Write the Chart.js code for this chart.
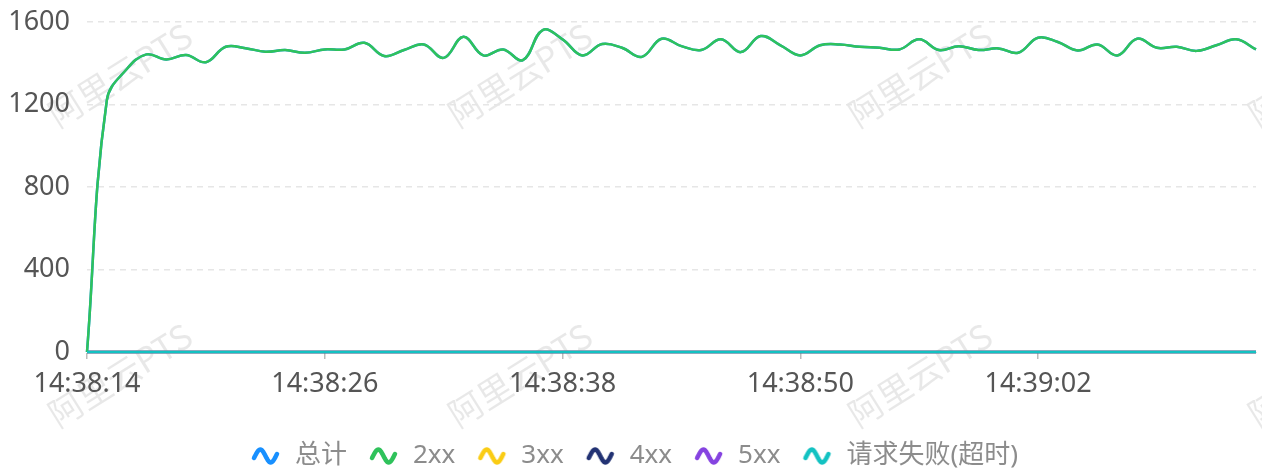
<!DOCTYPE html>
<html>
<head>
<meta charset="utf-8">
<script src="https://cdn.jsdelivr.net/npm/chart.js@4.4.1/dist/chart.umd.min.js"></script>
<style>
  html, body { margin: 0; padding: 0; background: #fff; }
  #qpsChart { display: block; background: #fff; }
</style>
</head>
<body>
<canvas id="qpsChart" width="1262" height="472"></canvas>
<script>
// one point per second, starting at 14:38:14
const startTime = [14, 38, 14];
const pointCount = 60;

const totalValues = [
    0, 1220, 1371, 1443, 1418, 1440, 1405, 1480, 1473, 1456,
    1464, 1451, 1467, 1467, 1499, 1435, 1464, 1491, 1426, 1528,
    1438, 1467, 1415, 1561, 1516, 1438, 1493, 1475, 1431, 1519,
    1483, 1464, 1516, 1454, 1532, 1487, 1438, 1487, 1491, 1480,
    1475, 1467, 1516, 1464, 1483, 1464, 1472, 1451, 1524, 1503,
    1462, 1491, 1438, 1519, 1475, 1480, 1460, 1487, 1516, 1467
];
// every request returned 2xx, so this series sits on top of the total
const status2xxValues = totalValues.slice();
const zeroValues = [
    0, 0, 0, 0, 0, 0, 0, 0, 0, 0, 0, 0, 0, 0, 0, 0, 0, 0, 0, 0,
    0, 0, 0, 0, 0, 0, 0, 0, 0, 0, 0, 0, 0, 0, 0, 0, 0, 0, 0, 0,
    0, 0, 0, 0, 0, 0, 0, 0, 0, 0, 0, 0, 0, 0, 0, 0, 0, 0, 0, 0
];
const status3xxValues = zeroValues;
const status4xxValues = zeroValues;
const status5xxValues = zeroValues;
const timeoutValues = zeroValues;

const yTicks = [0, 400, 800, 1200, 1600];
const labelEvery = 12;

function buildTimeLabels() {
    const labels = [];
    let secs = startTime[0] * 3600 + startTime[1] * 60 + startTime[2];
    for (let i = 0; i < pointCount; i++, secs++) {
        const h = Math.floor(secs / 3600), m = Math.floor(secs / 60) % 60, s = secs % 60;
        labels.push([h, m, s].map(v => String(v).padStart(2, '0')).join(':'));
    }
    return labels;
}
const timeLabels = buildTimeLabels();

const FONT = '"Noto Sans", "Noto Sans CJK SC", sans-serif';

// little "~" wave used as legend marker, with blank room on the left for spacing
function waveIcon(color) {
    const c = document.createElement('canvas');
    c.width = 44; c.height = 22;
    const g = c.getContext('2d');
    g.strokeStyle = color;
    g.lineWidth = 4.5;
    g.lineCap = 'round';
    g.beginPath();
    for (let i = 0; i <= 40; i++) {
        const u = i / 40;
        const x = 16 + u * 23;
        const y = 11 - 6.5 * Math.sin(2 * Math.PI * (u * 1.1 - 0.05));
        if (i === 0) g.moveTo(x, y); else g.lineTo(x, y);
    }
    g.stroke();
    return c;
}

function makeSeries(label, data, color, order) {
    return {
        label: label,
        data: data,
        borderColor: color,
        backgroundColor: color,
        borderWidth: 2.5,
        pointRadius: 0,
        pointHoverRadius: 0,
        pointStyle: waveIcon(color),
        tension: 0.4,
        fill: false,
        clip: false,
        order: order
    };
}

const watermark = {
    id: 'watermark',
    beforeDraw(chart) {
        const ctx = chart.ctx;
        ctx.save();
        ctx.font = '34px "Noto Sans CJK SC", sans-serif';
        ctx.fillStyle = 'rgba(0, 0, 0, 0.09)';
        ctx.textAlign = 'center';
        ctx.textBaseline = 'middle';
        [75, 375].forEach(cy => {
            [120, 520, 920, 1320].forEach(cx => {
                ctx.save();
                ctx.translate(cx, cy);
                ctx.rotate(-32 * Math.PI / 180);
                ctx.fillText('阿里云PTS', 0, 0);
                ctx.restore();
            });
        });
        ctx.restore();
    }
};

new Chart(document.getElementById('qpsChart'), {
    type: 'line',
    data: {
        labels: timeLabels,
        datasets: [
            makeSeries('总计', totalValues, '#1890FF', 5),
            makeSeries('2xx', status2xxValues, '#2FC25B', 1),
            makeSeries('3xx', status3xxValues, '#FACC14', 4),
            makeSeries('4xx', status4xxValues, '#223273', 3),
            makeSeries('5xx', status5xxValues, '#8543E0', 2),
            makeSeries('请求失败(超时)', timeoutValues, '#13C2C2', 0)
        ]
    },
    options: {
        responsive: false,
        animation: false,
        layout: { padding: { left: 0, right: 6, top: 22, bottom: -7 } },
        plugins: {
            legend: {
                position: 'bottom',
                onClick: null,
                labels: {
                    usePointStyle: true,
                    pointStyleWidth: 44,
                    boxHeight: 22,
                    padding: 9,
                    color: '#8c8c8c',
                    font: { family: FONT, size: 26 },
                    sort: (a, b) => a.datasetIndex - b.datasetIndex
                }
            },
            tooltip: { enabled: false }
        },
        scales: {
            x: {
                type: 'category',
                offset: false,
                afterBuildTicks: scale => {
                    scale.ticks = scale.ticks.filter(t => t.value % labelEvery === 0);
                },
                afterFit: scale => { scale.height = 82; },
                ticks: {
                    autoSkip: false,
                    maxRotation: 0,
                    padding: 9,
                    color: '#555',
                    font: { family: FONT, size: 27 }
                },
                grid: {
                    drawOnChartArea: false,
                    tickLength: 7,
                    color: '#bbb',
                    lineWidth: 1.5
                },
                border: { color: '#bbb' }
            },
            y: {
                min: 0,
                max: 1600,
                afterBuildTicks: scale => {
                    scale.ticks = yTicks.map(v => ({ value: v }));
                },
                afterFit: scale => { scale.width = 87; },
                ticks: {
                    padding: 4,
                    color: '#555',
                    font: { family: FONT, size: 27 },
                    callback: value => String(value)
                },
                grid: {
                    drawTicks: true,
                    tickLength: 13,
                    tickColor: 'rgba(0, 0, 0, 0)',
                    color: '#e6e6e6',
                    lineWidth: 1.5
                },
                border: { display: false, dash: [6, 5] }
            }
        }
    },
    plugins: [watermark]
});
</script>
</body>
</html>
